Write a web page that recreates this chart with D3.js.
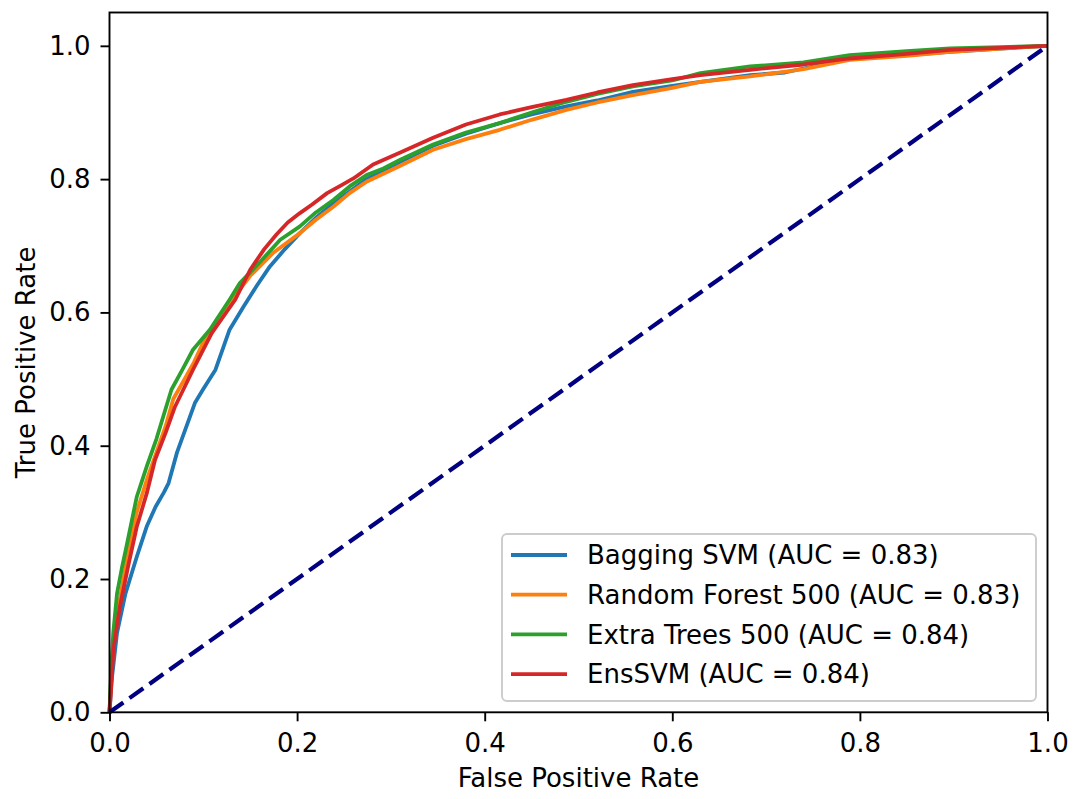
<!DOCTYPE html>
<html><head><meta charset="utf-8">
<script src="https://cdn.jsdelivr.net/npm/d3@7"></script>
<style>body{margin:0;background:#fff}svg{display:block}text{font-family:"DejaVu Sans",sans-serif}</style>
</head><body><svg id="c" width="1076" height="799"></svg>
<script>
const seriesNames = ["Bagging SVM (AUC = 0.83)","Random Forest 500 (AUC = 0.83)","Extra Trees 500 (AUC = 0.84)","EnsSVM (AUC = 0.84)"];
const seriesColors = ["#1f77b4","#ff7f0e","#2ca02c","#d62728"];
const xTicks = [0,0.2,0.4,0.6,0.8,1.0];
const yTicks = [0,0.2,0.4,0.6,0.8,1.0];

const baggingFpr = [0,0.002,0.008,0.017,0.029,0.040,0.049,0.058,0.063,0.072,0.091,0.100,0.113,0.128,0.143,0.157,0.171,0.187,0.203,0.220,0.240,0.274,0.310,0.345,0.380,0.416,0.450,0.487,0.520,0.558,0.600,0.630,0.683,0.720,0.789,0.850,0.896,0.950,1.0];
const baggingTpr = [0,0.044,0.119,0.178,0.233,0.280,0.308,0.330,0.344,0.390,0.464,0.485,0.514,0.574,0.609,0.640,0.669,0.695,0.719,0.742,0.765,0.800,0.826,0.850,0.868,0.884,0.897,0.909,0.918,0.931,0.940,0.946,0.956,0.960,0.981,0.986,0.991,0.996,1.0];

const rfFpr = [0,0.002,0.005,0.011,0.020,0.029,0.040,0.050,0.060,0.068,0.080,0.090,0.100,0.115,0.131,0.150,0.175,0.203,0.220,0.239,0.256,0.274,0.292,0.310,0.345,0.380,0.416,0.450,0.487,0.520,0.558,0.600,0.630,0.683,0.740,0.789,0.850,0.896,0.950,1.0];
const rfTpr = [0,0.06,0.12,0.17,0.24,0.30,0.35,0.39,0.43,0.47,0.50,0.525,0.555,0.59,0.62,0.655,0.69,0.719,0.739,0.759,0.779,0.796,0.808,0.820,0.844,0.860,0.874,0.889,0.904,0.915,0.926,0.937,0.946,0.954,0.965,0.979,0.985,0.991,0.996,1.0];

const etFpr = [0,0.002,0.004,0.008,0.013,0.018,0.029,0.040,0.050,0.066,0.078,0.089,0.107,0.128,0.139,0.160,0.182,0.203,0.220,0.239,0.256,0.274,0.292,0.310,0.345,0.380,0.416,0.450,0.487,0.520,0.558,0.600,0.630,0.683,0.740,0.789,0.850,0.896,0.950,1.0];
const etTpr = [0,0.07,0.119,0.178,0.215,0.248,0.323,0.37,0.41,0.484,0.515,0.544,0.574,0.619,0.644,0.675,0.709,0.729,0.750,0.769,0.789,0.806,0.816,0.829,0.852,0.870,0.884,0.900,0.916,0.928,0.939,0.948,0.959,0.969,0.975,0.986,0.992,0.996,0.998,1.0];

const ensFpr = [0,0.002,0.004,0.011,0.020,0.029,0.040,0.0485,0.060,0.0698,0.089,0.109,0.114,0.134,0.150,0.165,0.178,0.190,0.203,0.216,0.232,0.246,0.260,0.281,0.310,0.345,0.380,0.416,0.450,0.487,0.520,0.558,0.600,0.630,0.683,0.740,0.789,0.850,0.896,0.950,1.0];
const ensTpr = [0,0.04,0.093,0.158,0.22,0.278,0.33,0.3785,0.42,0.4585,0.514,0.569,0.579,0.619,0.664,0.695,0.717,0.735,0.749,0.762,0.779,0.790,0.801,0.822,0.840,0.862,0.882,0.897,0.908,0.919,0.930,0.941,0.950,0.956,0.964,0.972,0.981,0.988,0.994,0.997,1.0];

const diagX = [0,1];
const diagY = [0,1];

const seriesX = [baggingFpr, rfFpr, etFpr, ensFpr];
const seriesY = [baggingTpr, rfTpr, etTpr, ensTpr];

const svg = d3.select("#c");
const L = 109.5, R = 1047.5, T = 12.5, B = 712.3;
const x = d3.scaleLinear().domain([0,1]).range([L,R]);
const y = d3.scaleLinear().domain([0,1.05]).range([B,T]);
const FS = 26, LFS = 26;

const line = d3.line().x(d=>x(d[0])).y(d=>y(d[1]));

seriesX.forEach((xs,i)=>{
  svg.append("path").attr("d", line(xs.map((v,j)=>[v, seriesY[i][j]])))
    .attr("fill","none").attr("stroke",seriesColors[i]).attr("stroke-width",3.8)
    .attr("stroke-linejoin","round").attr("stroke-linecap","butt");
});
svg.append("path").attr("d", line(diagX.map((v,i)=>[v,diagY[i]])))
  .attr("fill","none").attr("stroke","#000080").attr("stroke-width",4.2)
  .attr("stroke-dasharray","17,7.5");

// axes
const xAxis = d3.axisBottom(x).tickValues(xTicks).tickFormat(d3.format(".1f")).tickSize(9).tickPadding(12);
const yAxis = d3.axisLeft(y).tickValues(yTicks).tickFormat(d3.format(".1f")).tickSize(9).tickPadding(10);
const gx = svg.append("g").attr("transform",`translate(0,${B})`).call(xAxis);
const gy = svg.append("g").attr("transform",`translate(${L},0)`).call(yAxis);
[gx,gy].forEach(g=>{
  g.select(".domain").remove();
  g.selectAll(".tick line").attr("stroke","#000").attr("stroke-width",1.9);
  g.selectAll(".tick text").attr("font-size",FS).attr("fill","#000").attr("font-family","DejaVu Sans");
});
// frame
svg.append("rect").attr("x",L).attr("y",T).attr("width",R-L).attr("height",B-T)
  .attr("fill","none").attr("stroke","#000").attr("stroke-width",1.9);

svg.append("text").attr("x",(L+R)/2).attr("y",787).attr("text-anchor","middle")
  .attr("font-size",LFS).text("False Positive Rate");
svg.append("text").attr("transform",`translate(35,${(T+B)/2}) rotate(-90)`).attr("text-anchor","middle")
  .attr("font-size",LFS).text("True Positive Rate");

// legend
const lg = svg.append("g");
lg.append("rect").attr("x",502).attr("y",534).attr("width",534).attr("height",167).attr("rx",5)
  .attr("fill","#fff").attr("fill-opacity",0.8).attr("stroke","#cccccc").attr("stroke-width",1.9);
seriesNames.forEach((n,i)=>{
  const cy = 555 + i*39.7;
  lg.append("line").attr("x1",511).attr("x2",567).attr("y1",cy).attr("y2",cy)
    .attr("stroke",seriesColors[i]).attr("stroke-width",3.8);
  lg.append("text").attr("x",587).attr("y",cy).attr("dy","0.36em").attr("font-size",FS).text(n);
});
</script></body></html>
